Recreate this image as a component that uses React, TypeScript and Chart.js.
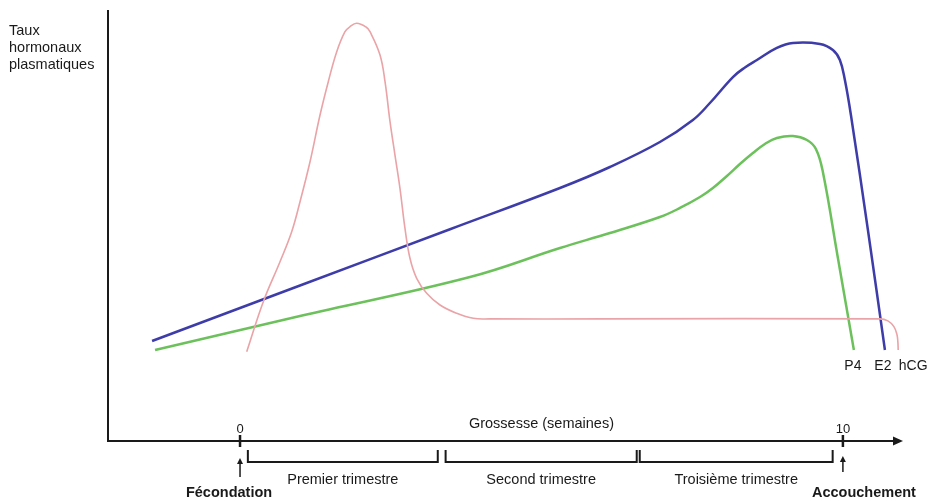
import React, { useEffect, useRef } from "react";
import { Chart, registerables } from "chart.js";

Chart.register(...registerables);

// x in "semaines" units (0 = Fécondation, 10 = Accouchement), y = relative level
const e2X = [-1.459, 0.995, 3.483, 5.307, 6.136, 6.965, 7.512, 7.794, 8.176, 8.375, 8.574, 8.905, 9.171, 9.619, 9.834, 9.95, 10.033, 10.133, 10.415, 10.697];
const e2Y = [23.26, 36.16, 49.24, 58.84, 63.72, 69.53, 74.65, 78.6, 84.65, 86.86, 88.6, 91.4, 92.56, 92.33, 90.93, 88.6, 83.95, 75.81, 49.07, 21.16];

const p4X = [-1.41, 0.995, 3.814, 5.307, 6.136, 6.965, 7.297, 7.629, 7.844, 8.076, 8.292, 8.507, 8.706, 8.905, 9.171, 9.403, 9.552, 9.668, 9.917, 10.182];
const p4Y = [21.16, 29.07, 38.14, 44.88, 48.37, 52.09, 54.19, 56.74, 58.84, 61.63, 64.42, 66.98, 69.07, 70.47, 70.93, 70.0, 67.91, 62.56, 42.56, 21.16];

const hcgX = [0.111, 0.386, 0.663, 0.857, 0.995, 1.161, 1.327, 1.464, 1.604, 1.741, 1.824, 1.935, 2.09, 2.156, 2.322, 2.405, 2.488, 2.57, 2.653, 2.736, 2.819, 2.93, 3.096, 3.317, 3.594, 3.869, 4.146, 6.0, 10.61, 10.746, 10.846, 10.896, 10.912, 10.917];
const hcgY = [20.77, 32.4, 41.7, 48.67, 55.65, 64.95, 75.81, 83.56, 90.53, 95.19, 96.35, 97.14, 96.28, 95.19, 89.77, 83.56, 74.26, 66.51, 58.77, 49.47, 42.49, 37.84, 34.35, 31.63, 29.7, 28.53, 28.4, 28.4, 28.4, 27.94, 26.6, 24.8, 23.0, 21.16];

const seriesNames = ["P4", "E2", "hCG"];
const tickValues = [0, 10];
const tickLabels = ["0", "10"];
const trimesterNames = ["Premier trimestre", "Second trimestre", "Troisième trimestre"];
const trimesterStart = [0.13, 3.41, 6.63];
const trimesterEnd = [3.28, 6.58, 9.83];
const eventValues = [0, 10];
const eventNames = ["Fécondation", "Accouchement"];
const xTitle = "Grossesse (semaines)";
const yTitle = ["Taux", "hormonaux", "plasmatiques"];

const toPts = (xs: number[], ys: number[]) => xs.map((x, i) => ({ x, y: ys[i] }));

const FONT = "'Liberation Sans', Arial, sans-serif";

const decor = {
  id: "decor",
  afterDraw(chart: any) {
    const ctx = chart.ctx as CanvasRenderingContext2D;
    const xs = chart.scales.x;
    const area = chart.chartArea;
    const bottom = area.bottom;
    const left = area.left;
    ctx.save();
    ctx.strokeStyle = "#1a1a1a";
    ctx.fillStyle = "#1a1a1a";
    // axes
    ctx.lineWidth = 2;
    ctx.beginPath();
    ctx.moveTo(left, 10);
    ctx.lineTo(left, bottom);
    ctx.lineTo(area.right - 6, bottom);
    ctx.stroke();
    // arrow head
    ctx.beginPath();
    ctx.moveTo(area.right - 2, bottom);
    ctx.lineTo(area.right - 12, bottom - 4.5);
    ctx.lineTo(area.right - 12, bottom + 4.5);
    ctx.closePath();
    ctx.fill();
    // ticks
    ctx.lineWidth = 2.5;
    ctx.font = `13px ${FONT}`;
    ctx.textAlign = "center";
    ctx.textBaseline = "alphabetic";
    tickValues.forEach((v, i) => {
      const px = xs.getPixelForValue(v);
      ctx.beginPath();
      ctx.moveTo(px, bottom - 6);
      ctx.lineTo(px, bottom + 6);
      ctx.stroke();
      ctx.fillText(tickLabels[i], px, bottom - 8);
    });
    // x title
    ctx.font = `14.5px ${FONT}`;
    ctx.fillText(xTitle, (xs.getPixelForValue(0) + xs.getPixelForValue(10)) / 2, bottom - 13);
    // brackets
    ctx.lineWidth = 2;
    ctx.font = `14.5px ${FONT}`;
    trimesterNames.forEach((name, i) => {
      const a = xs.getPixelForValue(trimesterStart[i]);
      const b = xs.getPixelForValue(trimesterEnd[i]);
      ctx.beginPath();
      ctx.moveTo(a, bottom + 9);
      ctx.lineTo(a, bottom + 21);
      ctx.lineTo(b, bottom + 21);
      ctx.lineTo(b, bottom + 9);
      ctx.stroke();
      ctx.fillText(name, (a + b) / 2, bottom + 43);
    });
    // event arrows
    ctx.lineWidth = 1.5;
    eventValues.forEach((v, i) => {
      const px = xs.getPixelForValue(v);
      const top = bottom + (i === 0 ? 17 : 15);
      const bot = bottom + (i === 0 ? 36 : 31);
      ctx.beginPath();
      ctx.moveTo(px, bot);
      ctx.lineTo(px, top + 3);
      ctx.stroke();
      ctx.beginPath();
      ctx.moveTo(px, top);
      ctx.lineTo(px - 3, top + 6);
      ctx.lineTo(px + 3, top + 6);
      ctx.closePath();
      ctx.fill();
    });
    ctx.font = `bold 14.5px ${FONT}`;
    ctx.fillText(eventNames[0], xs.getPixelForValue(eventValues[0]) - 11, bottom + 56);
    ctx.fillText(eventNames[1], xs.getPixelForValue(eventValues[1]) + 21, bottom + 56);
    // y title
    ctx.font = `14.5px ${FONT}`;
    ctx.textAlign = "left";
    yTitle.forEach((t, i) => ctx.fillText(t, 9, 35 + i * 17.2));
    // series labels
    ctx.textAlign = "center";
    ctx.font = `14px ${FONT}`;
    const ys = chart.scales.y;
    const labelY = ys.getPixelForValue(21.16) + 20;
    const ends = [p4X[p4X.length - 1], e2X[e2X.length - 1], hcgX[hcgX.length - 1]];
    const offs = [-1, -2, 15];
    seriesNames.forEach((n, i) => {
      ctx.fillText(n, xs.getPixelForValue(ends[i]) + offs[i], labelY);
    });
    ctx.restore();
  },
};

export default function App() {
  const ref = useRef<HTMLCanvasElement>(null);
  useEffect(() => {
    if (!ref.current) return;
    const common = { pointRadius: 0, tension: 0.4, fill: false };
    const chart = new Chart(ref.current, {
      type: "line",
      data: {
        datasets: [
          { label: "hCG", data: toPts(hcgX, hcgY), borderColor: "#eaa3a6", borderWidth: 1.6, ...common },
          { label: "P4", data: toPts(p4X, p4Y), borderColor: "#6cc15c", borderWidth: 2.5, ...common },
          { label: "E2", data: toPts(e2X, e2Y), borderColor: "#3d3ca8", borderWidth: 2.5, ...common },
        ],
      },
      options: {
        responsive: false,
        animation: false,
        devicePixelRatio: 1,
        layout: { padding: { left: 108, right: 25, top: 11, bottom: 60 } },
        plugins: { legend: { display: false }, tooltip: { enabled: false } },
        scales: {
          x: { type: "linear", min: -2.19, max: 11.03, display: false },
          y: { type: "linear", min: 0, max: 100, display: false },
        },
      },
      plugins: [decor],
    });
    return () => chart.destroy();
  }, []);
  return (
    <div style={{ position: "fixed", left: 0, top: 0, width: 930, height: 501, background: "#fff" }}>
      <canvas ref={ref} width={930} height={501} style={{ width: 930, height: 501 }} />
    </div>
  );
}
